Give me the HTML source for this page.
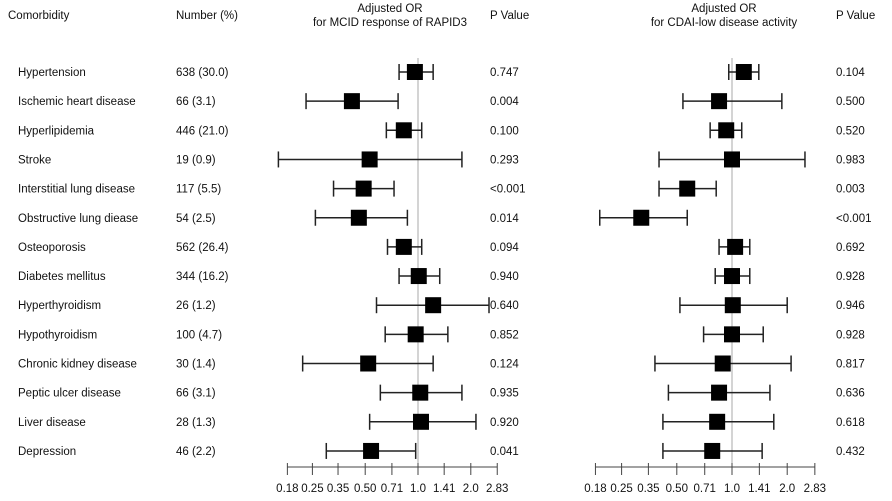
<!DOCTYPE html>
<html><head><meta charset="utf-8"><style>
body{margin:0;background:#fff;}
svg{display:block;font-family:"Liberation Sans",Arial,sans-serif;font-size:11.5px;fill:#111;}
</style></head><body>
<svg id="c" width="892" height="501" viewBox="0 0 892 501">
<g>
<text x="8" y="19">Comorbidity</text>
<text x="176" y="19">Number (%)</text>
<text x="390" y="12" text-anchor="middle">Adjusted OR</text>
<text x="390" y="26" text-anchor="middle">for MCID response of RAPID3</text>
<text x="490" y="19">P Value</text>
<text x="724" y="12" text-anchor="middle">Adjusted OR</text>
<text x="724" y="26" text-anchor="middle">for CDAI-low disease activity</text>
<text x="836" y="19">P Value</text>
</g>
</svg>
<script>
const categories=["Hypertension","Ischemic heart disease","Hyperlipidemia","Stroke","Interstitial lung disease","Obstructive lung diease","Osteoporosis","Diabetes mellitus","Hyperthyroidism","Hypothyroidism","Chronic kidney disease","Peptic ulcer disease","Liver disease","Depression"];
const numbers=["638 (30.0)","66 (3.1)","446 (21.0)","19 (0.9)","117 (5.5)","54 (2.5)","562 (26.4)","344 (16.2)","26 (1.2)","100 (4.7)","30 (1.4)","66 (3.1)","28 (1.3)","46 (2.2)"];
const leftOR=[0.96,0.42,0.83,0.53,0.49,0.46,0.83,1.01,1.22,0.97,0.52,1.03,1.04,0.54];
const leftLo=[0.78,0.23,0.66,0.16,0.33,0.26,0.67,0.78,0.58,0.65,0.22,0.61,0.53,0.30];
const leftHi=[1.22,0.77,1.05,1.78,0.73,0.87,1.05,1.33,2.54,1.48,1.22,1.78,2.14,0.97];
const leftP=["0.747","0.004","0.100","0.293","<0.001","0.014","0.094","0.940","0.640","0.852","0.124","0.935","0.920","0.041"];
const rightOR=[1.16,0.85,0.93,1.0,0.57,0.32,1.04,1.0,1.01,1.0,0.89,0.85,0.83,0.78];
const rightLo=[0.96,0.54,0.76,0.40,0.40,0.19,0.85,0.81,0.52,0.70,0.38,0.45,0.42,0.42];
const rightHi=[1.40,1.87,1.13,2.50,0.82,0.57,1.25,1.25,2.0,1.48,2.10,1.61,1.69,1.46];
const rightP=["0.104","0.500","0.520","0.983","0.003","<0.001","0.692","0.928","0.946","0.928","0.817","0.636","0.618","0.432"];
const tickVals=[0.18,0.25,0.35,0.5,0.71,1.0,1.41,2.0,2.83];
const tickLabels=["0.18","0.25","0.35","0.50","0.71","1.0","1.41","2.0","2.83"];

const svg=document.getElementById('c');
const NS='http://www.w3.org/2000/svg';
function mk(tag,attrs,parent){const e=document.createElementNS(NS,tag);for(const k in attrs)e.setAttribute(k,attrs[k]);(parent||svg).appendChild(e);return e;}
const yRow=i=>72+i*29.15;
const xL=v=>418+52.8*Math.log2(v);
const xR=v=>732+55.2*Math.log2(v);

categories.forEach((c,i)=>{
  const y=yRow(i)+4;
  let t=mk('text',{x:18,y:y});t.textContent=c;
  
  
  t=mk('text',{x:176,y:y});t.textContent=numbers[i];
  
  
  t=mk('text',{x:490,y:y});t.textContent=leftP[i];
  
  
  t=mk('text',{x:836,y:y});t.textContent=rightP[i];
  
  
});

function panel(X,or,lo,hi,name){
  const g=mk('g',{});
  
  
  let l=mk('line',{x1:X(1),x2:X(1),y1:58,y2:467,stroke:'#aaa','stroke-width':1},g);
  
  
  l=mk('line',{x1:X(tickVals[0]),x2:X(tickVals[tickVals.length-1]),y1:467,y2:467,stroke:'#444','stroke-width':1},g);
  
  
  tickVals.forEach((v,k)=>{
    const tk=mk('line',{x1:X(v),x2:X(v),y1:463,y2:475,stroke:'#444','stroke-width':1},g);
    
    
    const tl=mk('text',{x:X(v),y:492,'text-anchor':'middle'},g);tl.textContent=tickLabels[k];
    
    
  });
  or.forEach((v,i)=>{
    const y=yRow(i);
    const e=mk('g',{},g);
    
    
    mk('line',{x1:X(lo[i]),x2:X(hi[i]),y1:y,y2:y,stroke:'#222','stroke-width':1.5},e);
    mk('line',{x1:X(lo[i]),x2:X(lo[i]),y1:y-8,y2:y+8,stroke:'#222','stroke-width':1.5},e);
    mk('line',{x1:X(hi[i]),x2:X(hi[i]),y1:y-8,y2:y+8,stroke:'#222','stroke-width':1.5},e);
    mk('rect',{x:X(v)-8,y:y-8,width:16,height:16,fill:'#000'},e);
  });
}
panel(xL,leftOR,leftLo,leftHi,'left');
panel(xR,rightOR,rightLo,rightHi,'right');
</script>
</body></html>
